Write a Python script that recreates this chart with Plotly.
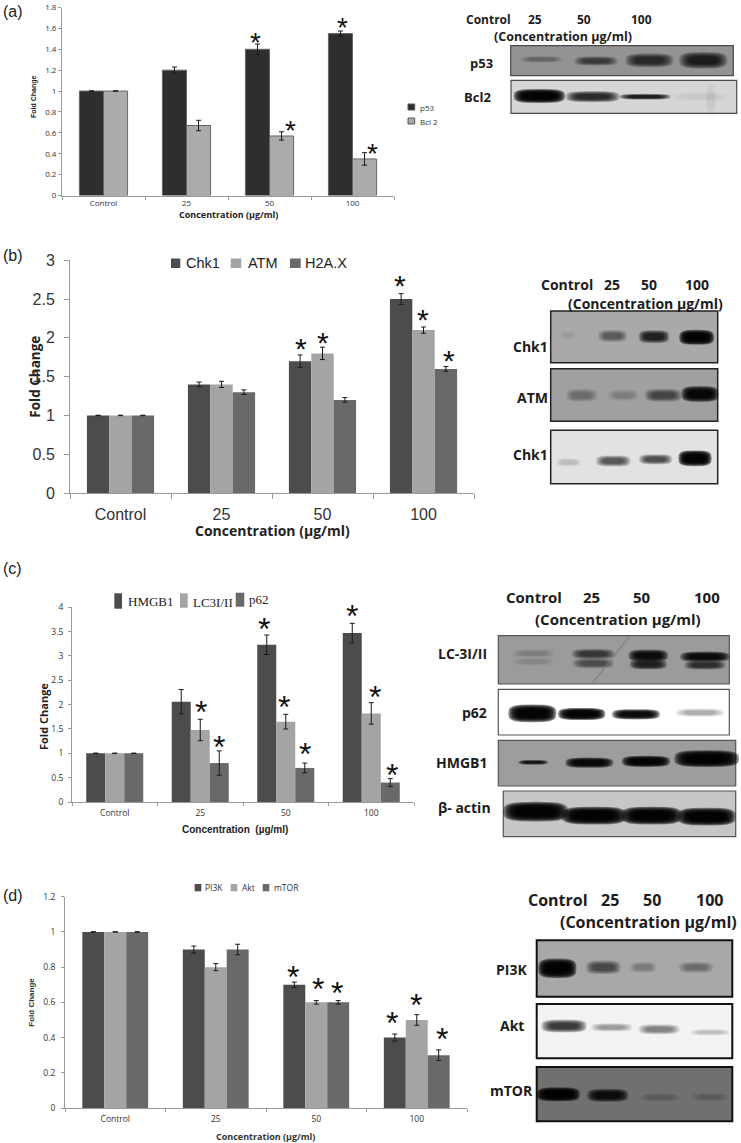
import plotly.graph_objects as go
import math

W, H = 741, 1143
categories = ["Control", "25", "50", "100"]

# Panel (a)
a_p53 = [1, 1.2, 1.4, 1.55]
a_p53_err = [0.002, 0.03, 0.05, 0.025]
a_bcl2 = [1, 0.67, 0.57, 0.35]
a_bcl2_err = [0.002, 0.05, 0.04, 0.06]
a_star_x = [1.837, 2.88, 2.255, 3.24]
a_star_y = [1.51, 1.65, 0.665, 0.45]

# Panel (b)
b_chk1 = [1, 1.4, 1.7, 2.5]
b_chk1_err = [0.003, 0.03, 0.08, 0.07]
b_atm = [1, 1.4, 1.8, 2.1]
b_atm_err = [0.003, 0.04, 0.08, 0.04]
b_h2ax = [1, 1.3, 1.2, 1.6]
b_h2ax_err = [0.003, 0.03, 0.03, 0.03]
b_star_x = [1.787, 2.0, 2.767, 2.995, 3.25]
b_star_y = [1.93, 2.0, 2.74, 2.30, 1.78]

# Panel (c)
c_hmgb1 = [1, 2.06, 3.23, 3.47]
c_hmgb1_err = [0.005, 0.25, 0.2, 0.2]
c_lc3 = [1, 1.48, 1.65, 1.82]
c_lc3_err = [0.005, 0.22, 0.15, 0.22]
c_p62 = [1, 0.8, 0.7, 0.4]
c_p62_err = [0.005, 0.25, 0.1, 0.08]
c_star_x = [1.012, 1.219, 1.749, 1.976, 2.225, 2.778, 3.04, 3.243]
c_star_y = [1.96, 1.25, 3.67, 2.07, 1.10, 3.93, 2.26, 0.67]

# Panel (d)
d_pi3k = [1, 0.9, 0.7, 0.4]
d_pi3k_err = [0.001, 0.02, 0.015, 0.02]
d_akt = [1, 0.8, 0.6, 0.5]
d_akt_err = [0.001, 0.02, 0.01, 0.03]
d_mtor = [1, 0.9, 0.6, 0.3]
d_mtor_err = [0.001, 0.03, 0.01, 0.03]
d_star_x = [1.764, 2.015, 2.204, 2.757, 2.992, 3.247]
d_star_y = [0.776, 0.709, 0.682, 0.515, 0.614, 0.420]

FONT = "Liberation Sans"
BOLD = "Open Sans"


def fx(px):
    return px / W


def fy(px):
    return 1 - px / H


fig = go.Figure()
shapes, notes = [], []


def text(s, x, y, size, anchor="center", family=BOLD, bold=True, color="#1c1c1c", angle=0):
    notes.append(dict(text=f"<b>{s}</b>" if bold else s, x=fx(x), y=fy(y), xref="paper", yref="paper",
                      xanchor=anchor, yanchor="middle", showarrow=False, textangle=angle,
                      font=dict(family=family, size=size, color=color)))


def swatch(x0, x1, y0, y1, color, edge=None):
    shapes.append(dict(type="rect", xref="paper", yref="paper", x0=fx(x0), x1=fx(x1), y0=fy(y1), y1=fy(y0),
                       fillcolor=color, line=dict(color=edge or color, width=1 if edge else 0)))


def panel(n, x0, x1, ytop, ybot, ymax, dtick, series, gap, tick, stars, starsize, edge):
    sx = "" if n == 1 else str(n)
    w = (1 - gap) / len(series)
    for i, (name, vals, errs, color) in enumerate(series):
        fig.add_trace(go.Bar(
            x=categories, y=vals, name=name, xaxis="x" + sx, yaxis="y" + sx, showlegend=False,
            width=w, offset=-(1 - gap) / 2 + i * w,
            marker=dict(color=color, line=dict(color=edge, width=1 if edge else 0)),
            error_y=dict(type="data", array=errs, color="#1a1a1a", thickness=1, width=2.5)))
    line = dict(showline=True, linecolor="#9a9a9a", linewidth=1, ticks="outside", tickcolor="#9a9a9a",
                ticklen=tick["len"])
    tf = dict(family=tick["family"], size=tick["size"], color="#333333")
    fig.update_layout(**{
        "xaxis" + sx: dict(domain=[fx(x0), fx(x1)], anchor="y" + sx, tickson="boundaries", showgrid=False,
                           tickfont=tf, ticklabelstandoff=tick["xs"],
                           type="category", range=[-0.5, 3.5], **line),
        "yaxis" + sx: dict(domain=[fy(ybot), fy(ytop)], anchor="x" + sx, range=[0, ymax], dtick=dtick, showgrid=False,
                           zeroline=False, tickfont=tf, ticklabelstandoff=tick["ys"], **line),
        "barmode": "group",
    })
    for sxv, syv in zip(*stars):
        notes.append(dict(text="*", x=sxv, y=syv, xref="x" + sx, yref="y" + sx, showarrow=False,
                          yanchor="middle", yshift=-starsize * 0.17,
                          font=dict(family=FONT, size=starsize, color="#111111")))


DARK, MID, DIM = "#4c4c4c", "#a4a4a4", "#696969"

panel(1, 62, 394, 7.5, 195.5, 1.8, 0.2,
      [("p53", a_p53, a_p53_err, "#2e2e2e"), ("Bcl 2", a_bcl2, a_bcl2_err, "#ababab")], 0.42,
      dict(family=BOLD, size=8, len=3, xs=0, ys=0),
      (a_star_x, a_star_y), 28, "#666666")
text("Concentration (µg/ml)", 228, 215, 9, color="#222")
text("Fold Change", 34, 97, 7, family=FONT, color="#222", angle=-90)
swatch(408, 414.7, 104, 110, "#2e2e2e", "#555")
swatch(408, 414.7, 118, 124, "#ababab", "#555")
text("p53", 418, 107, 8, "left", BOLD, False, "#333")
text("Bcl 2", 418, 121, 8, "left", BOLD, False, "#333")

panel(2, 70, 474, 260.3, 493, 3, 0.5,
      [("Chk1", b_chk1, b_chk1_err, DARK), ("ATM", b_atm, b_atm_err, MID), ("H2A.X", b_h2ax, b_h2ax_err, DIM)], 0.335,
      dict(family=FONT, size=16, len=5, xs=7, ys=6),
      (b_star_x, b_star_y), 30, None)
text("Concentration (µg/ml)", 272, 530, 14, color="#222")
text("Fold Change", 35, 376.7, 13.5, color="#222", angle=-90)
swatch(171, 180.3, 258.5, 268, DARK); text("Chk1", 184, 263.3, 14.5, "left", FONT, False, "#222")
swatch(230.7, 241.3, 258.5, 268, MID); text("ATM", 245.7, 263.3, 14.5, "left", FONT, False, "#222")
swatch(290, 300.7, 258.5, 268, DIM); text("H2A.X", 303.3, 263.3, 14.5, "left", FONT, False, "#222")

panel(3, 72, 414, 607.3, 802, 4, 0.5,
      [("HMGB1", c_hmgb1, c_hmgb1_err, DARK), ("LC3I/II", c_lc3, c_lc3_err, MID), ("p62", c_p62, c_p62_err, DIM)], 0.333,
      dict(family=BOLD, size=8.5, len=3, xs=3, ys=3),
      (c_star_x, c_star_y), 32, None)
text("Concentration  (µg/ml)", 235, 829, 10, family=FONT, color="#222")
text("Fold Change", 43, 717, 11, color="#222", angle=-90)
swatch(114.3, 122, 593.3, 608.7, DARK); text("HMGB1", 125.7, 601.7, 13, "left", "Liberation Serif", False, "#222")
swatch(180, 187.7, 593.3, 607.7, MID); text("LC3I/II", 191, 602, 13, "left", "Liberation Serif", False, "#222")
swatch(235.7, 244.3, 592.7, 606.7, DIM); text("p62", 247.3, 599.3, 13, "left", "Liberation Serif", False, "#222")

panel(4, 65, 467, 896.7, 1108, 1.2, 0.2,
      [("PI3K", d_pi3k, d_pi3k_err, DARK), ("Akt", d_akt, d_akt_err, MID), ("mTOR", d_mtor, d_mtor_err, DIM)], 0.345,
      dict(family=BOLD, size=8.5, len=3, xs=3, ys=4),
      (d_star_x, d_star_y), 32, None)
text("Concentration (µg/ml)", 265, 1136, 9, color="#333")
text("Fold Change", 32, 1002.7, 8, family=FONT, color="#333", angle=-90)
swatch(194.7, 201.3, 884, 891.3, DARK); text("PI3K", 203, 887.7, 8.5, "left", BOLD, False, "#333")
swatch(230.7, 237.3, 884, 891.3, MID); text("Akt", 240, 887.7, 8.5, "left", BOLD, False, "#333")
swatch(262.7, 269.3, 884, 891.3, DIM); text("mTOR", 271.7, 887.7, 8.5, "left", BOLD, False, "#333")


# ---- Western-blot panels: lane darkness per band ----
def superellipse(cx, cy, a, b):
    pts = []
    for j in range(20):
        t = 2 * math.pi * j / 20
        c, s = math.cos(t), math.sin(t)
        x = cx + a * math.copysign(abs(c) ** 0.6, c)
        y = cy + b * math.copysign(abs(s) ** 0.6, s)
        pts.append((fx(x), fy(y)))
    return "M" + " L".join(f"{p:.5f},{q:.5f}" for p, q in pts) + " Z"


def blot(x0, x1, y0, y1, bg, bands, border="#4a4a4a", bw=1.2, ox=0, oy=0):
    shapes.append(dict(type="rect", xref="paper", yref="paper", x0=fx(x0), x1=fx(x1), y0=fy(y1), y1=fy(y0),
                       fillcolor=bg, line=dict(color=border, width=bw)))
    n = 7
    for cx, cy, hw, hh, d in bands:
        cx, cy, hw, hh = ox + cx / 3, oy + cy / 3, hw / 3, hh / 3
        alpha = 1 - (1 - min(d, 0.98)) ** (1 / n)
        for i in range(n):
            k = 1.25 - 0.085 * i
            kh = 1.4 - 0.13 * i
            shapes.append(dict(type="path", path=superellipse(cx, cy, hw * k, hh * kh),
                               xref="paper", yref="paper", layer="above",
                               fillcolor=f"rgba(0,0,0,{alpha:.3f})", line=dict(width=0)))


blot(510.7, 733.3, 45.7, 75.7, "#939393",
     [(305, 178, 50, 7, .3), (468, 183, 52, 10, .6), (628, 181, 58, 15, .72), (790, 181, 58, 18, .8)], ox=440)
blot(511, 736.7, 80.3, 113.3, "#d6d6d6",
     [(298, 288, 62, 15, .99), (458, 290, 65, 12, .8), (615, 290, 62, 6, .85), (780, 290, 70, 10, .05), (812, 300, 14, 38, .05)], ox=440)

blot(550.7, 717.7, 311, 362.7, "#a9a9a9",
     [(235, 225, 20, 10, .05), (368, 228, 35, 13, .45), (492, 230, 37, 14, .8), (620, 232, 42, 16, .98)], "#222", 1.5, 490, 260)
blot(550.7, 717.7, 368.7, 421.3, "#a0a0a0",
     [(275, 406, 38, 14, .3), (400, 406, 38, 12, .2), (520, 406, 45, 14, .55), (630, 402, 45, 17, .95)], "#222", 1.5, 490, 260)
blot(550.7, 717.7, 430.3, 483.7, "#e2e2e2",
     [(235, 607, 30, 9, .15), (370, 603, 42, 12, .6), (497, 598, 40, 11, .65), (615, 595, 40, 17, .99)], "#222", 1.5, 490, 260)

blot(498.3, 729.3, 635.7, 684, "#9b9b9b",
     [(190, 250, 50, 9, .18), (190, 275, 50, 9, .1), (370, 252, 52, 11, .65), (370, 280, 50, 11, .5),
      (535, 257, 48, 13, .92), (535, 283, 45, 11, .8), (705, 260, 60, 11, .92), (705, 285, 50, 10, .7)], "#555", 1.2, 470, 570)
blot(498.3, 729.3, 689.3, 735, "#ffffff",
     [(187, 430, 58, 19, .99), (335, 432, 57, 13, .99), (498, 433, 58, 11, .95), (690, 428, 60, 9, .3)], "#555", 1.2, 470, 570)
blot(498.3, 735.7, 740.3, 786, "#9d9d9d",
     [(190, 577, 36, 5, .85), (358, 578, 58, 11, .95), (528, 574, 58, 12, .97), (710, 566, 78, 18, .99)], "#555", 1.2, 470, 570)
blot(503.3, 735.7, 791, 836.7, "#c6c6c6",
     [(197, 725, 78, 21, .99), (372, 737, 78, 19, .99), (545, 737, 73, 19, .99), (710, 740, 70, 19, .99)], "#555", 1.2, 470, 570)
shapes.append(dict(type="line", xref="paper", yref="paper", x0=fx(630), x1=fx(591.7), y0=fy(635.7), y1=fy(684),
                   line=dict(color="#777777", width=1)))

blot(536.7, 732.3, 940.3, 996.7, "#a8a8a8",
     [(142, 355, 46, 21, .99), (280, 352, 42, 15, .55), (400, 352, 32, 12, .25), (558, 352, 42, 12, .35)], "#111", 2, 510, 850)
blot(536.7, 732.3, 1004, 1058.3, "#f3f3f3",
     [(162, 528, 55, 14, .75), (305, 532, 50, 9, .35), (447, 538, 50, 11, .45), (600, 547, 48, 7, .2)], "#111", 2, 510, 850)
blot(536.7, 732.3, 1067, 1121.3, "#707070",
     [(145, 733, 52, 15, .99), (293, 736, 50, 14, .88), (450, 742, 48, 9, .18), (600, 741, 45, 9, .18)], "#111", 2, 510, 850)

# ---- Blot headers and labels ----
text("Control", 488, 19.5, 12); text("25", 535, 19.5, 12); text("50", 584, 19.5, 12); text("100", 641.7, 19.5, 12)
text("(Concentration µg/ml)", 563, 36.5, 12.5)
text("p53", 481.7, 63, 13); text("Bcl2", 477.7, 97, 13)

text("Control", 567, 284.3, 14); text("25", 611.7, 284.3, 14); text("50", 648.7, 284.3, 14); text("100", 696.7, 284.3, 14)
text("(Concentration µg/ml)", 645, 304, 14)
text("Chk1", 530, 346.7, 14); text("ATM", 532, 397, 14); text("Chk1", 530, 454, 14)

text("Control", 534, 597, 15); text("25", 591, 597, 15); text("50", 642.3, 597, 15); text("100", 707, 597, 15)
text("(Concentration µg/ml)", 618.3, 619.3, 15)
text("LC-3I/II", 489, 653, 14, "right"); text("p62", 489, 712, 14, "right")
text("HMGB1", 489, 762, 14, "right"); text("β- actin", 493, 807, 14, "right")

text("Control", 557.7, 900, 16); text("25", 610, 900, 16); text("50", 652.3, 900, 16); text("100", 709, 900, 16)
text("(Concentration µg/ml)", 648.3, 922.3, 16)
text("PI3K", 529, 969, 14, "right"); text("Akt", 526, 1025.7, 14, "right"); text("mTOR", 535, 1090, 14, "right")

for lab, y in (("(a)", 11), ("(b)", 255), ("(c)", 568), ("(d)", 895)):
    text(lab, 1, y, 16, "left", FONT, False, "#222")

fig.update_layout(width=W, height=H, autosize=False,
                  margin=dict(l=0, r=0, t=0, b=0, autoexpand=False),
                  paper_bgcolor="white", plot_bgcolor="white", shapes=shapes, annotations=notes)

fig.write_html("out.html", config={"displayModeBar": False}, post_script="document.body.style.margin='0';")
